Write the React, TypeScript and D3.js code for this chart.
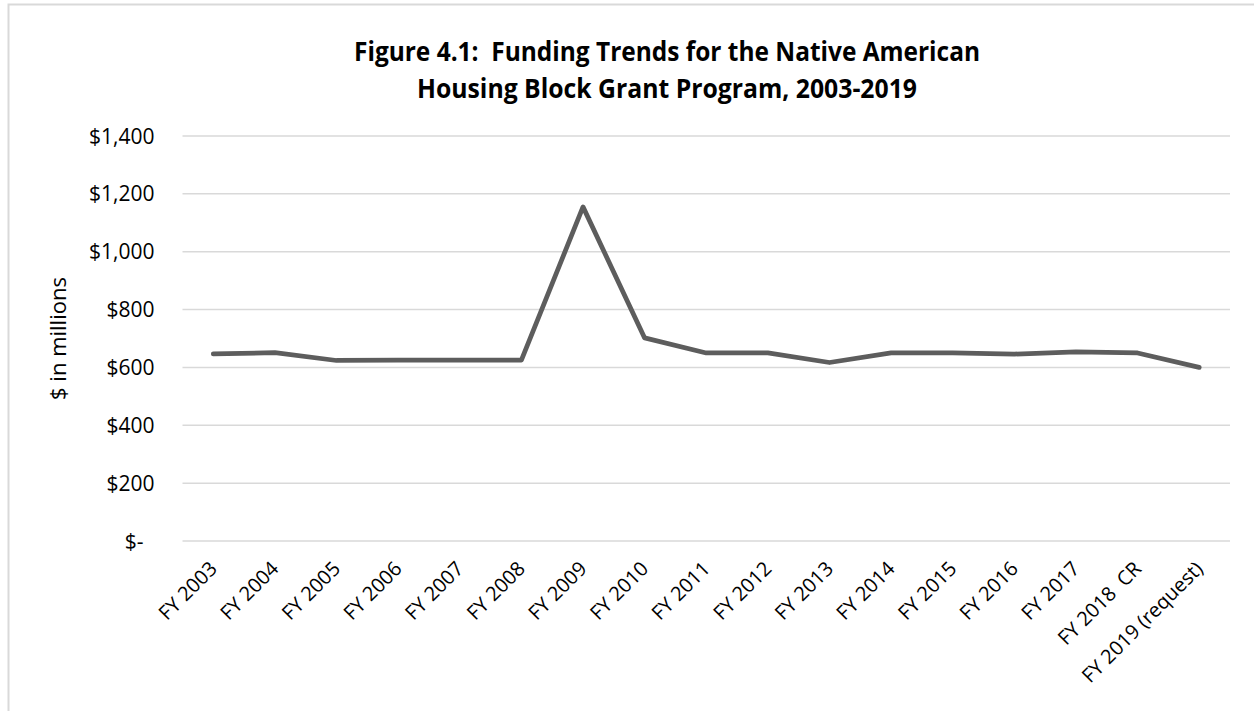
import React from "react";
import * as d3 from "d3";

const categories = [
  "FY 2003", "FY 2004", "FY 2005", "FY 2006", "FY 2007", "FY 2008", "FY 2009",
  "FY 2010", "FY 2011", "FY 2012", "FY 2013", "FY 2014", "FY 2015", "FY 2016",
  "FY 2017", "FY 2018  CR", "FY 2019 (request)",
];
const funding = [647, 651, 624, 625, 625, 625, 1155, 702, 650, 650, 617, 650, 650, 646, 654, 650, 600];
const yTicks = [0, 200, 400, 600, 800, 1000, 1200, 1400];
const titleLines = [
  "Figure 4.1:  Funding Trends for the Native American",
  "Housing Block Grant Program, 2003-2019",
];
const titleWidths = [626, 500];
const yAxisTitle = "$ in millions";

const W = 1254;
const H = 711;
const plot = { left: 182.5, right: 1230, top: 136, bottom: 541 };
const FONT = "'Open Sans', 'Noto Sans', sans-serif";

export default function App() {
  const x = d3.scaleBand<string>().domain(categories).range([plot.left, plot.right]);
  const y = d3.scaleLinear().domain([0, 1400]).range([plot.bottom, plot.top]);
  const cx = (c: string) => (x(c) as number) + x.bandwidth() / 2;
  const line = d3
    .line<number>()
    .x((_, i) => cx(categories[i]))
    .y((d) => y(d));
  const fmt = (v: number) => (v === 0 ? "$-" : "$" + d3.format(",")(v));

  return (
    <div style={{ position: "absolute", left: 0, top: 0 }}>
      <svg width={W} height={H} style={{ display: "block", background: "#fff" }}>
        <rect x={8.5} y={4.5} width={W + 20} height={H + 20} fill="#fff" stroke="#d9d9d9" strokeWidth={2} />
        {titleLines.map((t, i) => (
          <text
            key={t}
            x={667}
            y={61 + i * 37}
            textAnchor="middle"
            fontFamily={FONT}
            fontWeight={700}
            fontSize={26}
            fill="#000"
            textLength={titleWidths[i]}
            lengthAdjust="spacingAndGlyphs"
            style={{ whiteSpace: "pre" }}
          >
            {t}
          </text>
        ))}
        {yTicks.map((v) => (
          <g key={v}>
            <line x1={plot.left} x2={plot.right} y1={y(v)} y2={y(v)} stroke="#d9d9d9" strokeWidth={1.5} />
            <text
              x={v === 0 ? plot.left - 39 : plot.left - 28}
              y={y(v)}
              dy="0.36em"
              textAnchor="end"
              fontFamily={FONT}
              fontSize={21}
              fill="#000"
            >
              {fmt(v)}
            </text>
          </g>
        ))}
        <text
          transform={`translate(${66},${(plot.top + plot.bottom) / 2}) rotate(-90)`}
          textAnchor="middle"
          fontFamily={FONT}
          fontSize={22}
          fill="#000"
        >
          {yAxisTitle}
        </text>
        <path
          d={line(funding) as string}
          fill="none"
          stroke="#5d5d5d"
          strokeWidth={4.75}
          strokeLinecap="round"
          strokeLinejoin="round"
        />
        {categories.map((c) => (
          <text
            key={c}
            transform={`translate(${cx(c) + 5},${plot.bottom + 29}) rotate(-45)`}
            textAnchor="end"
            fontFamily={FONT}
            fontSize={20}
            fill="#000"
            style={{ whiteSpace: "pre" }}
          >
            {c}
          </text>
        ))}
      </svg>
    </div>
  );
}
